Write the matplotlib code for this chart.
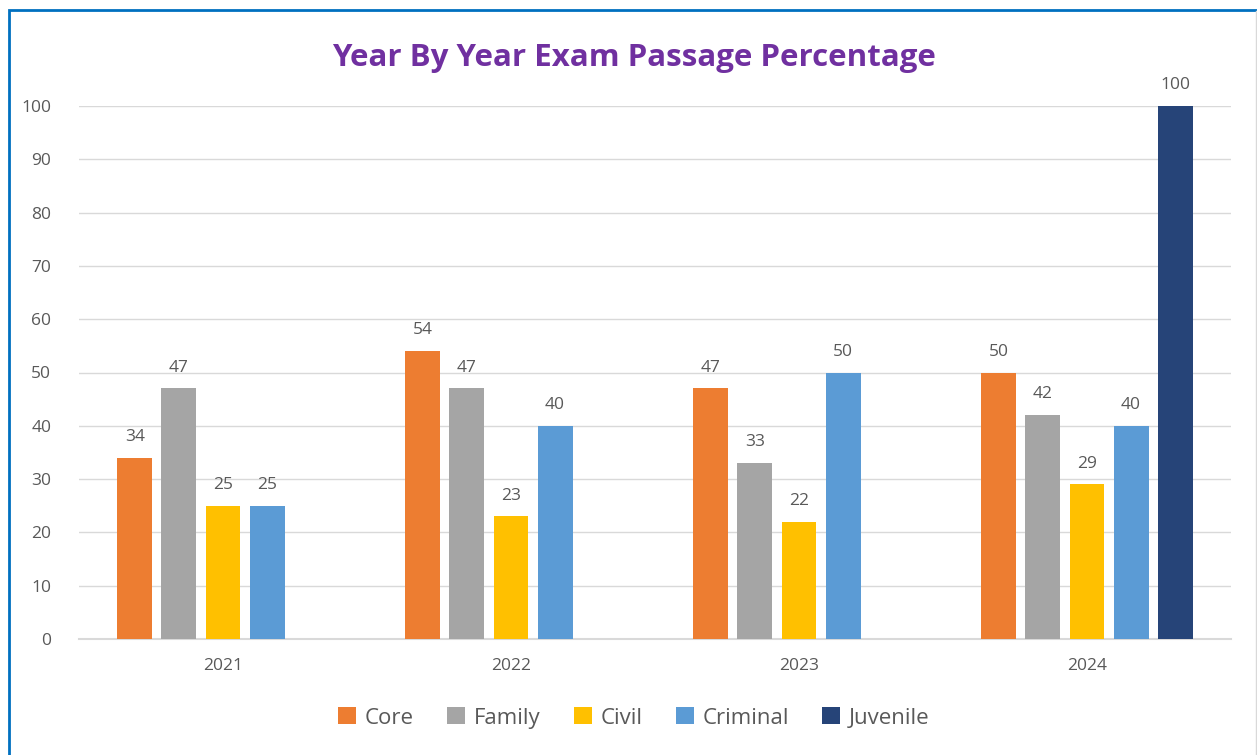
import matplotlib.pyplot as plt
import numpy as np
from matplotlib.patches import Rectangle

years = ["2021", "2022", "2023", "2024"]
core = [34, 54, 47, 50]
family = [47, 47, 33, 42]
civil = [25, 23, 22, 29]
criminal = [25, 40, 50, 40]
juvenile = [np.nan, np.nan, np.nan, 100]

series = [("Core", core, "#ED7D31"), ("Family", family, "#A5A5A5"),
          ("Civil", civil, "#FFC000"), ("Criminal", criminal, "#5B9BD5"),
          ("Juvenile", juvenile, "#264478")]

plt.rcParams['font.family'] = ['Open Sans', 'DejaVu Sans']
txt = "#595959"

fig = plt.figure(figsize=(12.57, 7.55), dpi=100)
ax = fig.add_axes([79 / 1257, 1 - 639 / 755, 1152 / 1257, 533 / 755])

x = np.arange(len(years))
step = 0.153
width = 0.1215
for i, (name, vals, col) in enumerate(series):
    pos = x + (i - 2) * step
    bars = ax.bar(pos, vals, width, color=col, label=name, zorder=3)
    for b, v in zip(bars, vals):
        if not np.isnan(v):
            ax.text(b.get_x() + b.get_width() / 2, v + 2.4, f"{v:g}", ha="center", va="bottom",
                    fontsize=12.5, color=txt)

ax.set_xlim(-0.5, 3.5)
ax.set_ylim(0, 100)
ax.set_yticks(range(0, 101, 10))
ax.set_xticks(x)
ax.set_xticklabels(years)
ax.yaxis.grid(True, color="#D9D9D9", linewidth=1, zorder=0)
for s in ["top", "right", "left"]:
    ax.spines[s].set_visible(False)
ax.spines["bottom"].set_color("#D9D9D9")
ax.spines["bottom"].set_linewidth(1.5)
ax.tick_params(axis="both", length=0, labelsize=12.5, colors=txt)
ax.tick_params(axis="x", pad=14)
ax.tick_params(axis="y", pad=20)

fig.text(634 / 1257, 1 - 58 / 755, "Year By Year Exam Passage Percentage", ha="center", va="center",
         fontsize=22.5, fontweight="bold", color="#7030A0")

ax.legend(loc="center", bbox_to_anchor=(634 / 1257, 1 - 718 / 755), bbox_transform=fig.transFigure,
          ncol=5, frameon=False, fontsize=16, labelcolor=txt, handlelength=0.8, handleheight=0.8,
          handletextpad=0.4, columnspacing=1.5)

fig.patches.append(Rectangle((8.5 / 1257, -0.05), 1.2, 1.05 - 9.5 / 755, transform=fig.transFigure,
                             fill=False, edgecolor="#0070C0", linewidth=2))
fig.add_artist(plt.Line2D([1256 / 1257] * 2, [0, 1 - 11 / 755], color="#D9D9D9", linewidth=1))

fig.savefig("out.png", dpi=100)
